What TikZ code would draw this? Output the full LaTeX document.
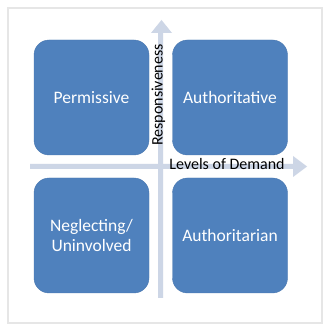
\documentclass[tikz,border=0pt]{standalone}
\usepackage{fontspec}
\setmainfont{Carlito}
\usetikzlibrary{shapes.arrows}
\definecolor{boxblue}{HTML}{4F81BD}
\definecolor{boxedge}{HTML}{4A78B0}
\definecolor{arrowgray}{HTML}{CDD6E6}
\definecolor{cardedge}{HTML}{E6E6E6}
\begin{document}
\begin{tikzpicture}[x=1pt,y=1pt,
  quad/.style={draw=boxedge,fill=boxblue,rounded corners=15pt,minimum width=115pt,minimum height=115pt,text=white,font=\fontsize{17.5}{20}\selectfont,align=center,inner sep=0pt},
  axislabel/.style={font=\fontsize{16}{18}\selectfont,text=black,inner sep=0pt}]
\useasboundingbox (0,0) rectangle (333,333);
\fill[white] (0,0) rectangle (333,333);
\draw[cardedge,line width=1.2pt,fill=white] (8,10) rectangle (322,325);
% axes
\fill[arrowgray] (30,164) -- (293,164) -- (293,156) -- (307,166.5) -- (293,177) -- (293,169) -- (30,169) -- cycle;
\fill[arrowgray] (158,35) -- (158,300) -- (151,300) -- (161.5,313) -- (172,300) -- (163,300) -- (163,35) -- cycle;
% quadrants
\node[quad] (perm) at (91.5,235.5) {Permissive};
\node[quad] (auth) at (230,235.5) {Authoritative};
\node[quad] (negl) at (91.5,97.5) {Neglecting/\\Uninvolved};
\node[quad] (autn) at (230,97.5) {Authoritarian};
% labels
\node[axislabel,rotate=90] (resp) at (158.5,238) {Responsiveness};
\node[axislabel] (lod) at (227,169) {Levels of Demand};
\end{tikzpicture}
\end{document}
